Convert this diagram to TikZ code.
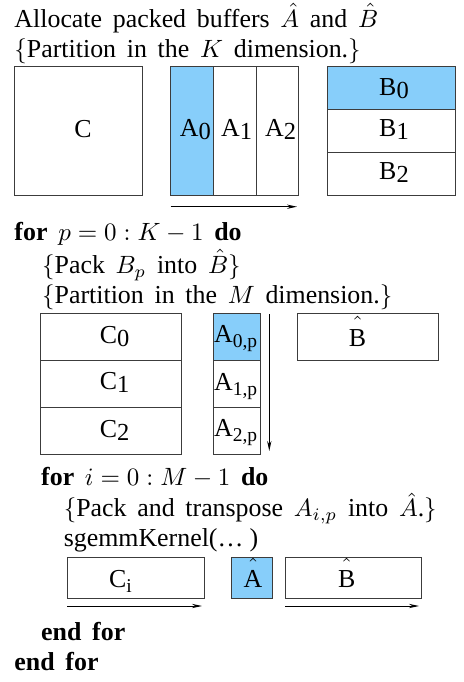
\documentclass[tikz,border=0pt]{standalone}
\usepackage{fontspec}
\setmainfont{Liberation Serif}
\usetikzlibrary{arrows.meta}
\definecolor{hl}{RGB}{135,206,250}
\definecolor{edge}{RGB}{60,60,60}
\newcommand{\dsub}[1]{\raisebox{-1.3pt}{\fontsize{9.8}{10}\selectfont #1}}
\newcommand{\ssub}[1]{\raisebox{-2pt}{\fontsize{7.8}{8}\selectfont #1}}
\newcommand{\hatB}{$\hat{\mbox{\raisebox{0pt}[9.2pt]{B}}}$}
\newcommand{\hatA}{$\hat{\mbox{\raisebox{0pt}[9.2pt]{A}}}$}
\newcommand{\myfont}{\fontsize{10.35}{12.4}\selectfont\spaceskip=4.3pt\relax}
\begin{document}
\begin{tikzpicture}[x=0.4pt,y=-0.4pt,
  txt/.style={anchor=base west,inner sep=0pt,font=\myfont},
  lbl/.style={anchor=base,inner sep=0pt,font=\myfont},
  box/.style={draw=edge,line width=0.4pt,anchor=north west,inner sep=0pt,outer sep=0pt},
  sz/.style 2 args={minimum width=#1*0.4pt,minimum height=#2*0.4pt},
  arr/.style={line width=0.4pt,-{Stealth[length=4pt,width=1.7pt]}}]
\useasboundingbox (0,0) rectangle (464,682);

% ---- text lines
\node[txt] (t1) at (14,27) {Allocate packed buffers $\hat{A}$ and $\hat{B}$};
\node[txt] (t2) at (14,57) {$\{$Partition in the $K$ dimension.$\}$};
\node[txt] (t3) at (14,240.7) {\textbf{for} $p=0:K-1$ \textbf{do}};
\node[txt] (t4) at (41.7,273.3) {$\{$Pack $B_p$ into $\hat{B}$$\}$};
\node[txt] (t5) at (41.7,303.3) {$\{$Partition in the $M$ dimension.$\}$};
\node[txt] (t6) at (40.7,485) {\textbf{for} $i=0:M-1$ \textbf{do}};
\node[txt] (t7) at (63.3,516.7) {$\{$Pack and transpose $A_{i,p}$ into $\hat{A}$.$\}$};
\node[txt] (t8) at (63.3,546) {sgemmKernel(\textellipsis\kern2.5pt)};
\node[txt] (t9) at (40.7,640) {\textbf{end for}};
\node[txt] (t10) at (14,670) {\textbf{end for}};

% ---- top row
\node[box,sz={128.7}{128.3}] (C) at (14,66.7) {};
\node[box,fill=hl,sz={42.67}{128.3}] (A0) at (170.7,66.7) {};
\node[box,sz={42.67}{128.3}] (A1) at (A0.north east) {};
\node[box,sz={42.67}{128.3}] (A2) at (A1.north east) {};
\node[box,fill=hl,sz={128}{42.77}] (B0) at (327.3,66.7) {};
\node[box,sz={128}{42.77}] (B1) at (B0.south west) {};
\node[box,sz={128}{42.77}] (B2) at (B1.south west) {};
\node[lbl] (lC) at (83,137) {C};
\node[lbl] (lA0) at (195.3,136.7) {A\dsub{0}};
\node[lbl] (lA1) at (236.7,136.7) {A\dsub{1}};
\node[lbl] (lA2) at (280.7,136.7) {A\dsub{2}};
\node[lbl] (lB0) at (394,95) {B\dsub{0}};
\node[lbl] (lB1) at (394,136.7) {B\dsub{1}};
\node[lbl] (lB2) at (394,179) {B\dsub{2}};
\coordinate (k1) at (170.7,206.7);
\coordinate (k2) at (297,206.7);
\draw[arr] (k1) -- (k2);

% ---- middle row
\node[box,sz={141}{46.9}] (C0) at (40.7,313.3) {};
\node[box,sz={141}{46.9}] (C1) at (C0.south west) {};
\node[box,sz={141}{46.9}] (C2) at (C1.south west) {};
\node[box,fill=hl,sz={46.7}{46.9}] (P0) at (213.3,313.3) {};
\node[box,sz={46.7}{46.9}] (P1) at (P0.south west) {};
\node[box,sz={46.7}{46.9}] (P2) at (P1.south west) {};
\node[box,sz={141}{46.7}] (Bh) at (297.3,313.3) {};
\node[lbl] (lC0) at (114.7,343) {C\dsub{0}};
\node[lbl] (lC1) at (114.7,389) {C\dsub{1}};
\node[lbl] (lC2) at (114.7,437) {C\dsub{2}};
\node[txt] (lP0) at (213.6,342) {A\ssub{0,p}};
\node[txt] (lP1) at (213.6,390) {A\ssub{1,p}};
\node[txt] (lP2) at (213.6,436) {A\ssub{2,p}};
\node[lbl] (lBh) at (357.5,346) {\hatB};
\coordinate (m1) at (269.3,314);
\coordinate (m2) at (269.3,451);
\draw[arr] (m1) -- (m2);

% ---- bottom row
\node[box,sz={137}{41}] (Ci) at (67,557.3) {};
\node[box,fill=hl,sz={41}{41}] (Ah) at (231,557.3) {};
\node[box,sz={136.7}{41}] (Bk) at (285,557.3) {};
\node[lbl] (lCi) at (120.5,587.3) {C\ssub{i}};
\node[lbl] (lAh) at (253,587.3) {\hatA};
\node[lbl] (lBk) at (346.7,587.3) {\hatB};
\coordinate (b1) at (67,606);
\coordinate (b2) at (202,606);
\coordinate (b3) at (285,606);
\coordinate (b4) at (419,606);
\draw[arr] (b1) -- (b2);
\draw[arr] (b3) -- (b4);
\end{tikzpicture}
\end{document}
